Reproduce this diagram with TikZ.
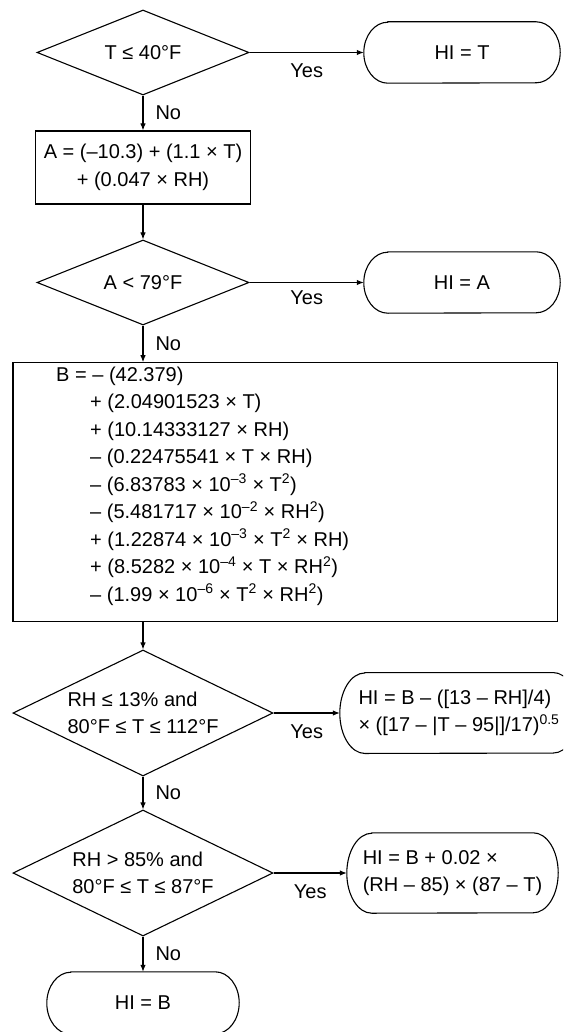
\documentclass[tikz,border=0pt]{standalone}
\usepackage{fontspec}
\setmainfont{Liberation Sans}
\usetikzlibrary{arrows.meta,shapes.geometric}

% Outline of a terminal node: straight top and bottom, elliptic ends.
% #1 node name, #2 horizontal radius of the ends, #3 half height
\newcommand\termframe[3]{%
  \draw[line] ([xshift=#2]#1.north west) -- ([xshift=-#2]#1.north east)
    arc[start angle=90, end angle=-90, x radius=#2, y radius=#3]
    -- ([xshift=#2]#1.south west)
    arc[start angle=270, end angle=90, x radius=#2, y radius=#3] -- cycle;}
\newcommand\contline{\hspace*{34pt}}

\begin{document}
\begin{tikzpicture}[x=1pt, y=-1pt,
  font=\fontsize{20}{27.5}\selectfont,
  line/.style={draw=black, line width=1.1pt},
  flow/.style={line, -{Latex[length=7pt,width=5.5pt]}},
  decision/.style={diamond, line, inner sep=0pt, aspect=2.2},
  process/.style={rectangle, line, inner sep=0pt},
  terminal/.style={rectangle, inner sep=0pt},
  yes/.style={midway, yshift=-18.4pt, inner sep=0pt},
  no/.style={midway, right=12pt, inner sep=0pt}]

\clip (0,0) rectangle (563,1032);

% decisions and results
\node[decision, minimum width=212pt, minimum height=85pt] (d1) at (143,52.5) {T ≤ 40°F};
\node[terminal, minimum width=196pt, minimum height=61pt] (t1) at (462,52.5) {HI = T};

\node[process, minimum width=215pt, minimum height=73pt, align=center] (a) at (143,167.5)
  {A = (–10.3) + (1.1 × T)\\+ (0.047 × RH)};

\node[decision, minimum width=212pt, minimum height=85pt] (d2) at (143,282.5) {A < 79°F};
\node[terminal, minimum width=196pt, minimum height=61pt] (t2) at (462,282.5) {HI = A};

% full regression
\node[process, minimum width=544.6pt, minimum height=258.3pt] (b) at (285.3,491.9) {};
\node[anchor=west, inner sep=0pt, align=left] (bt) at (56,486)
  {B = – (42.379)\\
   \contline+ (2.04901523 × T)\\
   \contline+ (10.14333127 × RH)\\
   \contline– (0.22475541 × T × RH)\\
   \contline– (6.83783 × 10\textsuperscript{–3} × T\textsuperscript{2})\\
   \contline– (5.481717 × 10\textsuperscript{–2} × RH\textsuperscript{2})\\
   \contline+ (1.22874 × 10\textsuperscript{–3} × T\textsuperscript{2} × RH)\\
   \contline+ (8.5282 × 10\textsuperscript{–4} × T × RH\textsuperscript{2})\\
   \contline– (1.99 × 10\textsuperscript{–6} × T\textsuperscript{2} × RH\textsuperscript{2})};

% adjustments
\node[decision, minimum width=260pt, minimum height=126pt, align=left] (d3) at (143,713)
  {RH ≤ 13\% and\\80°F ≤ T ≤ 112°F};
\node[terminal, minimum width=238pt, minimum height=80.5pt, align=left] (t3) at (459,713)
  {HI = B – ([13 – RH]/4)\\× ([17 – |T – 95|]/17)\textsuperscript{0.5}};

\node[decision, minimum width=260pt, minimum height=126pt, align=left] (d4) at (143,873)
  {RH > 85\% and\\80°F ≤ T ≤ 87°F};
\node[terminal, minimum width=211pt, minimum height=80pt, align=left] (t4) at (452.5,873)
  {HI = B + 0.02 ×\\(RH – 85) × (87 – T)};

\node[terminal, minimum width=192pt, minimum height=62pt] (t5) at (143,1003) {HI = B};

\termframe{t1}{24pt}{30.5pt}
\termframe{t2}{24pt}{30.5pt}
\termframe{t3}{25pt}{40.25pt}
\termframe{t4}{25pt}{40pt}
\termframe{t5}{24pt}{31pt}

% connectors
\draw[flow] (d1.east) -- node[yes]{Yes} (t1.west);
\draw[flow] (d1.south) -- node[no]{No} (a.north);
\draw[flow] (a.south) -- (d2.north);
\draw[flow] (d2.east) -- node[yes, yshift=3.4pt]{Yes} (t2.west);
\draw[flow] (d2.south) -- node[no]{No} (d2.south |- b.north);
\draw[flow] (b.south -| d3.north) -- (d3.north);
\draw[flow] (d3.east) -- node[yes]{Yes} (t3.west);
\draw[flow] (d3.south) -- node[no]{No} (d4.north);
\draw[flow] (d4.east) -- node[yes]{Yes} (t4.west);
\draw[flow] (d4.south) -- node[no]{No} (t5.north);
\end{tikzpicture}
\end{document}
